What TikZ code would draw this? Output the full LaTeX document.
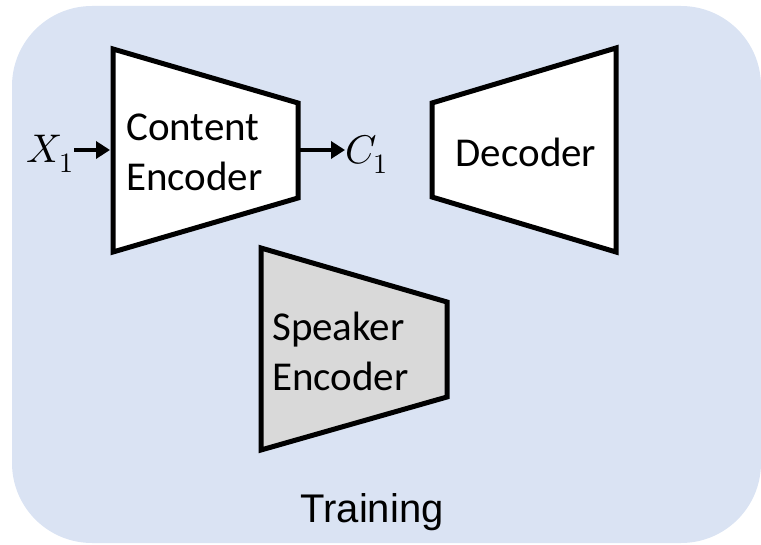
\documentclass[tikz,border=0pt]{standalone}
\usepackage{fontspec}
\usepackage{unicode-math}
\setmainfont{Carlito}
\setmathfont{Latin Modern Math}
\newfontfamily\arialfont{Liberation Sans}
\usetikzlibrary{arrows.meta}
\definecolor{trainblue}{RGB}{218, 227, 243}
\definecolor{spkgray}{RGB}{217, 217, 217}

\begin{document}
\begin{tikzpicture}[x=1pt, y=1pt, line join=miter,
        block/.style={draw, line width=5pt, fill=white},
        label/.style={inner sep=0pt, align=left, font=\fontsize{41}{50}\selectfont},
        arr/.style={line width=4pt, -{Triangle[length=14pt, width=17pt]}},
        sym/.style={inner sep=0pt, font=\fontsize{40}{40}\selectfont}]

    \useasboundingbox (0,0) rectangle (761,544);
    \fill[trainblue, rounded corners=80pt] (12,1) rectangle (761,538);

    % --- bloki ---
    \draw[block] (113,495) -- (298,441) -- (298,346) -- (113,292) -- cycle;
    \draw[block] (432,441) -- (616,496) -- (616,292) -- (432,347) -- cycle;
    \draw[block, fill=spkgray] (261,296) -- (447,242) -- (447,147) -- (261,94) -- cycle;

    % --- napisy w blokach ---
    \node[label, anchor=west] (cenc) at (126,392) {Content\\Encoder};
    \node[label] (dec) at (526,392) {Decoder};
    \node[label, anchor=west] (senc) at (272,192.5) {Speaker\\Encoder};

    % --- wejście i wyjście ---
    \node[sym, anchor=east] (x1) at (74,390) {$X_1$};
    \node[sym, anchor=west] (c1) at (345,390) {$C_1$};
    \coordinate (cin)  at (110,394);
    \coordinate (cout) at (298,394);
    \draw[arr] (x1.east |- cin) -- (cin);
    \draw[arr] (cout) -- (c1.west |- cout);

    \node[inner sep=0pt, anchor=base, font=\arialfont\fontsize{40}{40}\selectfont] (train) at (372,21) {Training};

\end{tikzpicture}
\end{document}
